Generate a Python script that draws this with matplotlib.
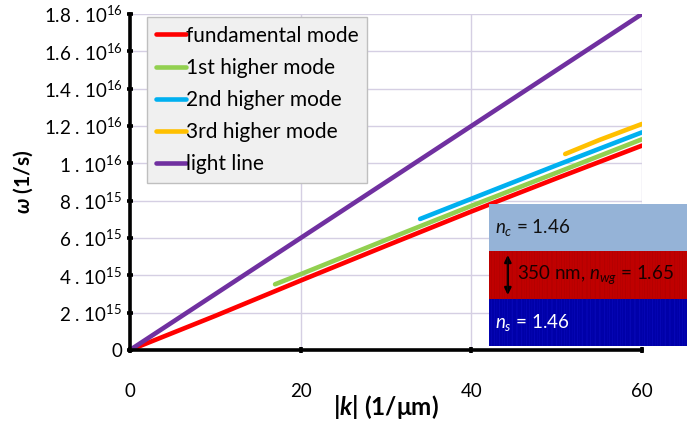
import numpy as np
import matplotlib
matplotlib.use('Agg')
import matplotlib.pyplot as plt
from matplotlib.patches import FancyArrowPatch

plt.rcParams['font.family'] = ['Lato', 'DejaVu Sans']
plt.rcParams['mathtext.fontset'] = 'custom'
plt.rcParams['mathtext.rm'] = 'Lato'
plt.rcParams['mathtext.it'] = 'Lato:italic'
plt.rcParams['mathtext.bf'] = 'Lato:bold'
plt.rcParams['mathtext.bfit'] = 'Lato:bold:italic'

# dispersion curves, k in 1/um, omega in 1/s
k_fund = [0, 10, 20, 30, 40, 50, 60]
w_fund = [0, 1.83e15, 3.72e15, 5.58e15, 7.42e15, 9.20e15, 1.095e16]

k_first = [17, 20, 30, 40, 50, 60]
w_first = [3.52e15, 4.06e15, 5.90e15, 7.72e15, 9.50e15, 1.129e16]

k_second = [34, 40, 50, 60]
w_second = [7.02e15, 8.10e15, 9.90e15, 1.166e16]

k_third = [51, 55, 60]
w_third = [1.05e16, 1.125e16, 1.211e16]

k_light = [0, 60]
w_light = [0, 1.8e16]

labels = ['fundamental mode', '1st higher mode', '2nd higher mode',
          '3rd higher mode', 'light line']
colors = ['#ff0000', '#92d050', '#00b0f0', '#ffc000', '#7030a0']

x_ticks = [0, 20, 40, 60]
y_ticks = [0, 2e15, 4e15, 6e15, 8e15, 1e16, 1.2e16, 1.4e16, 1.6e16, 1.8e16]
y_ticklabels = ['0', '2 . 10$^{15}$', '4 . 10$^{15}$', '6 . 10$^{15}$',
                '8 . 10$^{15}$', '1 . 10$^{16}$', '1.2 . 10$^{16}$',
                '1.4 . 10$^{16}$', '1.6 . 10$^{16}$', '1.8 . 10$^{16}$']

fig = plt.figure(figsize=(6.87, 4.23), dpi=100)
ax = fig.add_axes([130 / 687, 1 - 350 / 423, 512 / 687, 336 / 423])

series = [(k_fund, w_fund), (k_first, w_first), (k_second, w_second),
          (k_third, w_third), (k_light, w_light)]
for (k, w), lab, col in zip(series, labels, colors):
    ax.plot(k, w, color=col, lw=3.3, label=lab, solid_capstyle='round', zorder=3)

ax.set_xlim(0, 60)
ax.set_ylim(0, 1.8e16)
ax.set_xticks(x_ticks)
ax.set_yticks(y_ticks)
ax.set_yticklabels(y_ticklabels)
ax.grid(True, color='#d5cfe3', lw=1.0, zorder=0)
ax.set_axisbelow(True)

for s in ['top', 'right']:
    ax.spines[s].set_visible(False)
for s in ['left', 'bottom']:
    ax.spines[s].set_linewidth(2.6)
    ax.spines[s].set_zorder(4)

ax.tick_params(axis='both', direction='inout', length=5, width=2.6,
               labelsize=13.5)
ax.tick_params(axis='x', pad=21)
ax.tick_params(axis='y', pad=3)

ax.set_xlabel(r'$\mathbfit{|k|}$ (1/μm)', fontsize=17.5, fontweight='bold',
              labelpad=-5)
ax.set_ylabel(r'$\mathbfit{\omega}$ (1/s)', fontsize=15, fontweight='bold',
              labelpad=6)

leg = ax.legend(loc='upper left', bbox_to_anchor=(17 / 512, 1 - 3 / 336),
                fontsize=15, handlelength=1.45, handletextpad=0.0,
                labelspacing=0.58, borderpad=0.42, borderaxespad=0,
                fancybox=False, framealpha=1)
leg.get_frame().set_facecolor('#f0f0f0')
leg.get_frame().set_edgecolor('#bfbfbf')
leg.get_frame().set_linewidth(1.0)
for h in leg.get_lines():
    h.set_linewidth(3.3)

# waveguide cross-section sketch
ins = fig.add_axes([489 / 687, 1 - 346 / 423, 198 / 687, 142 / 423])
ins.set_xlim(0, 1)
ins.set_ylim(0, 3)
ins.axis('off')
ins.axhspan(2, 3, color='#95b3d7', lw=0)
ins.axhspan(1, 2, color='#c00000', lw=0)
ins.axhspan(0, 1, color='#0000a8', lw=0)
# fine vertical streaks in the core and substrate layers
xs = np.linspace(0, 1, 120)
for i, x in enumerate(xs):
    shade = 0.5 + 0.5 * np.sin(i * 2.39)
    ins.plot([x, x], [1, 2], color='#8a0000', lw=0.6, alpha=0.25 * shade)
    ins.plot([x, x], [0, 1], color='#1a1ae0', lw=0.6, alpha=0.3 * shade)
ins.text(0.03, 2.5, r'$n_c$ = 1.46', fontsize=13.5, va='center', color='#111111')
ins.text(0.14, 1.5, r'350 nm, $n_{wg}$ = 1.65', fontsize=13.5, va='center',
         color='#1a0000')
ins.text(0.03, 0.5, r'$n_s$ = 1.46', fontsize=13.5, va='center', color='white')
ins.add_patch(FancyArrowPatch((0.095, 1.02), (0.095, 1.98), arrowstyle='<|-|>',
                              mutation_scale=10, color='black', lw=1.6))

fig.savefig('out.png', dpi=100)
